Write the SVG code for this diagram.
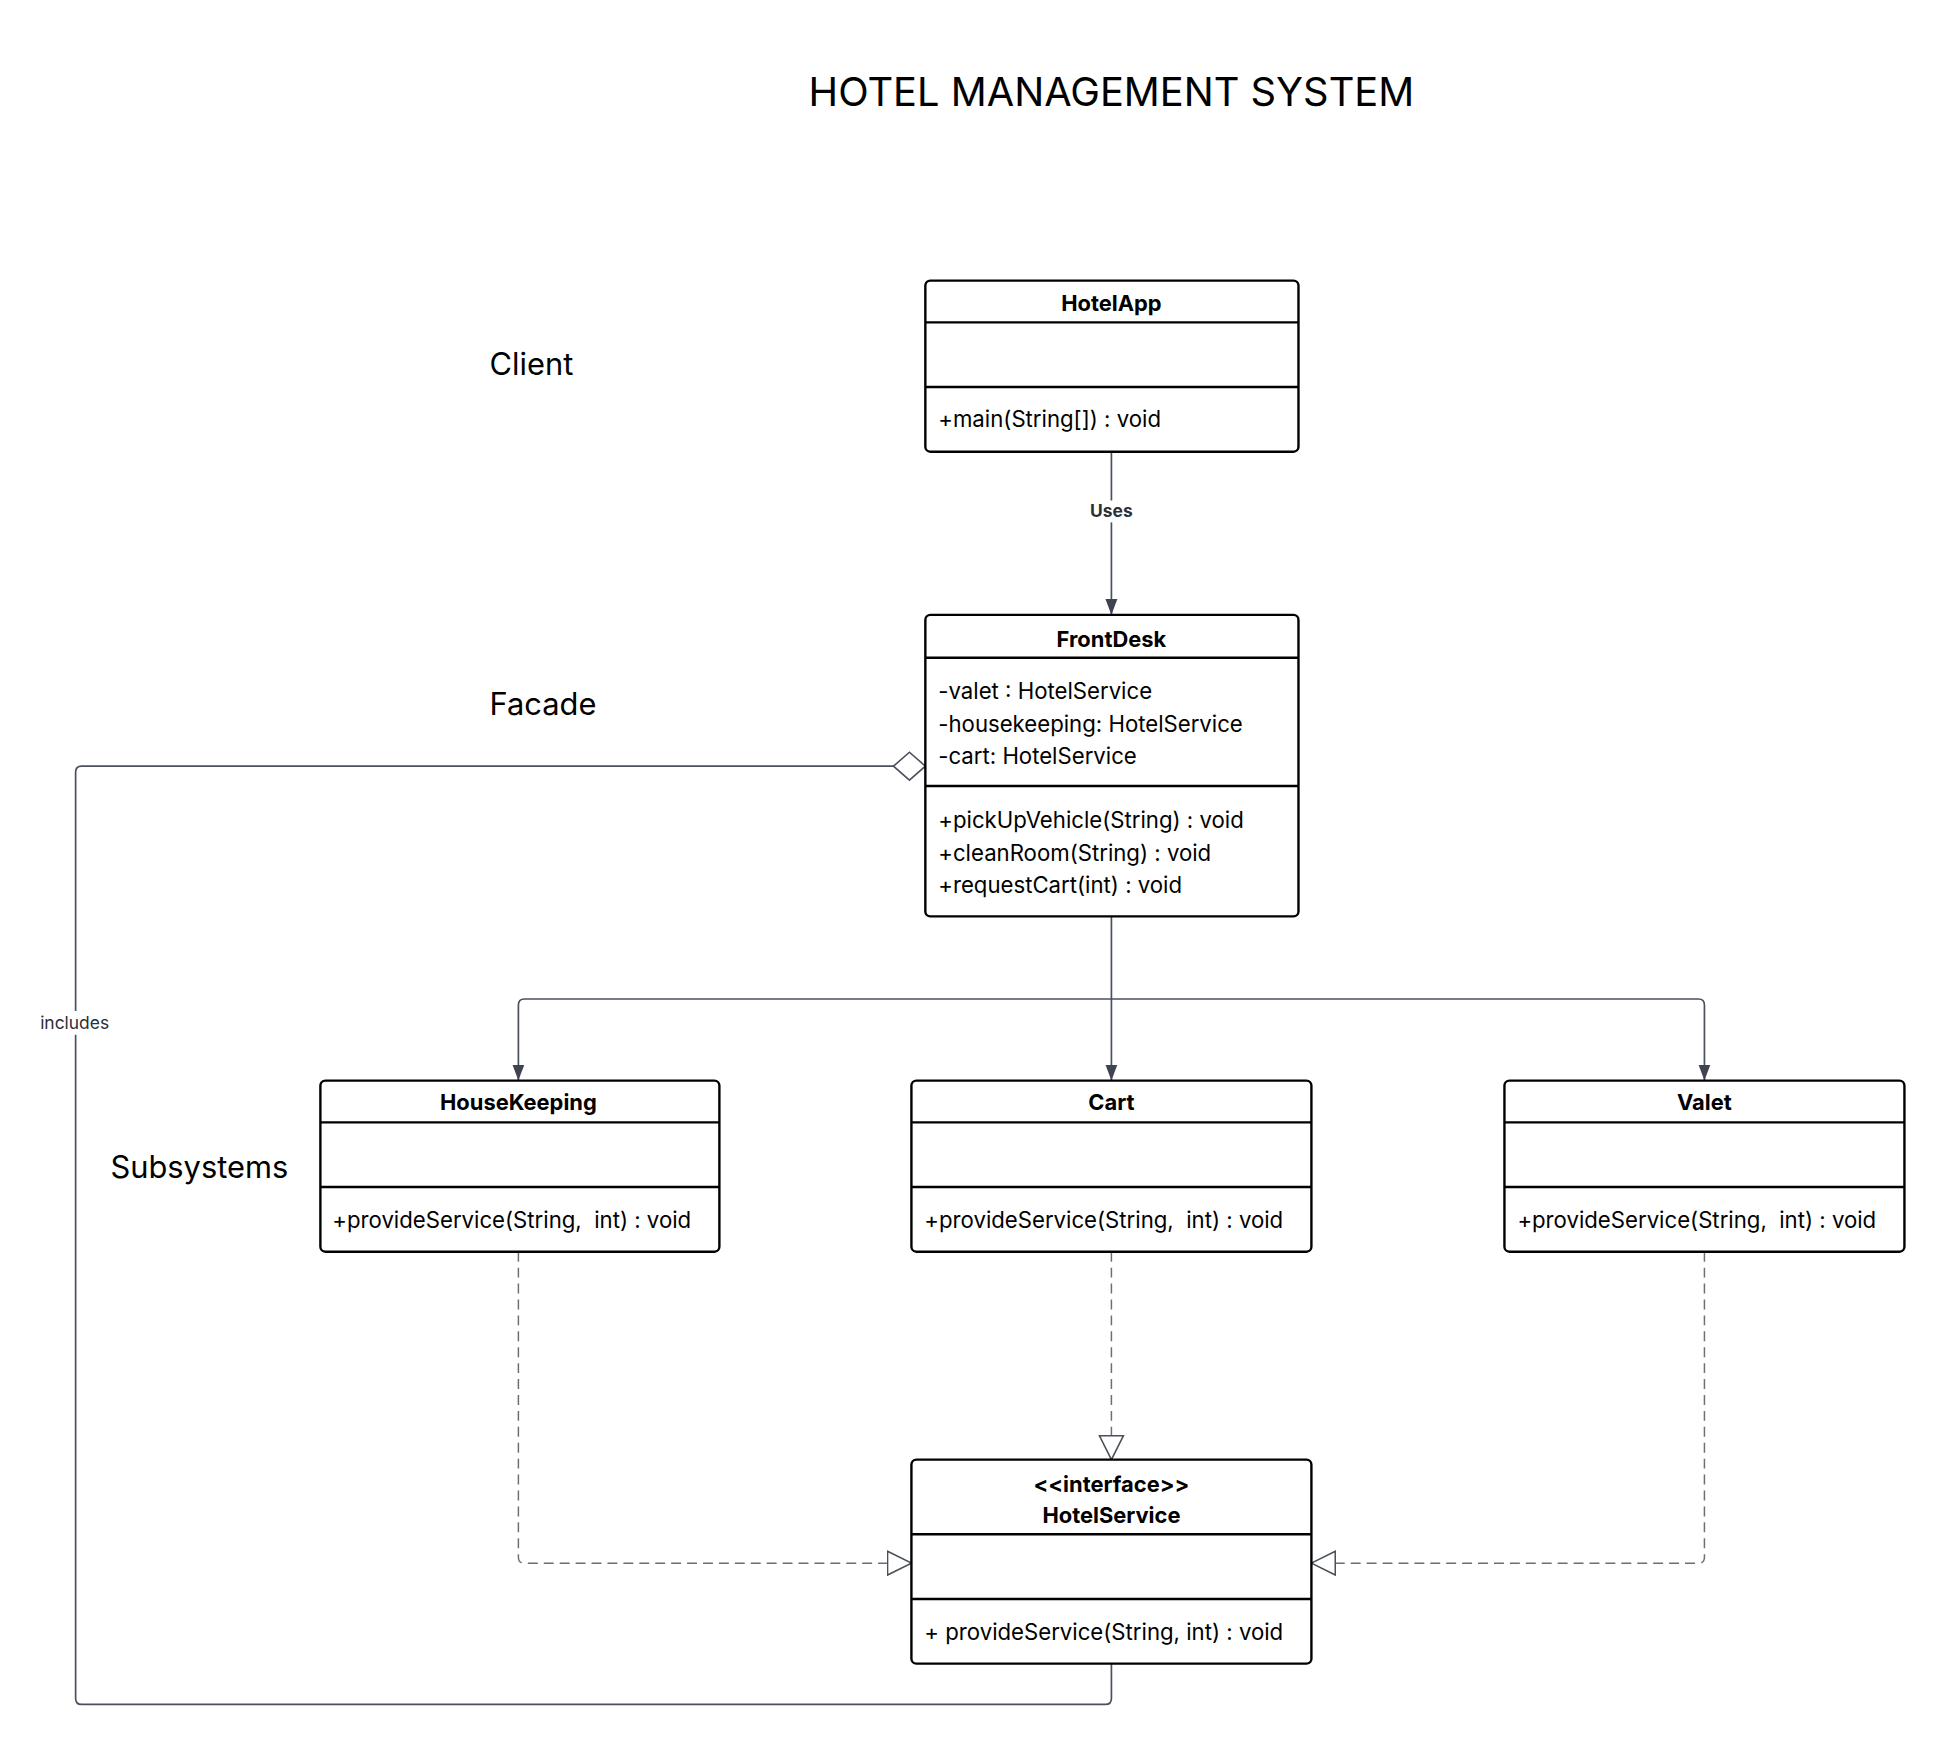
<svg xmlns="http://www.w3.org/2000/svg" width="1945" height="1746" viewBox="0 0 1945 1746">
<style>
text{font-family:Inter,"Liberation Sans",sans-serif;fill:#000}
.title{font-size:40px}
.side{font-size:31px}
.cls{font-size:22px;font-weight:700;text-anchor:middle}
.body{font-size:22.3px}
.box{fill:#fff;stroke:#000;stroke-width:2.4}
.div{stroke:#000;stroke-width:2.4}
.con{fill:none;stroke:#4a505c;stroke-width:1.7}
.dash{fill:none;stroke:#6b6f78;stroke-width:1.5;stroke-dasharray:10 6}
.lbl{font-size:17.5px;fill:#2b2f36;text-anchor:middle}
</style>
<defs>
<marker id="arr" markerUnits="userSpaceOnUse" markerWidth="16" markerHeight="20" viewBox="0 0 16 20" refX="16" refY="8" orient="auto">
<path d="M0,2 L16,8 L0,14 Z" fill="#3f4450"/>
</marker>
<marker id="tri" markerUnits="userSpaceOnUse" markerWidth="26" markerHeight="28" viewBox="0 0 26 28" refX="25" refY="14" orient="auto">
<path d="M1,2 L25,14 L1,26 Z" fill="#fff" stroke="#4a505c" stroke-width="1.6"/>
</marker>
<marker id="dia" markerUnits="userSpaceOnUse" markerWidth="36" markerHeight="32" viewBox="0 0 36 32" refX="34" refY="16" orient="auto">
<path d="M2,16 L18,2 L34,16 L18,30 Z" fill="#fff" stroke="#4a505c" stroke-width="1.6"/>
</marker>
</defs>
<rect width="1945" height="1746" fill="#fff"/>
<g transform="scale(0.995)">
<text class="title" x="1117" y="107" text-anchor="middle">HOTEL MANAGEMENT SYSTEM</text>
<text class="side" x="492" y="377">Client</text>
<text class="side" x="492" y="719">Facade</text>
<text class="side" x="111" y="1184">Subsystems</text>

<g id="connectors">
<path class="con" d="M1117,454 V618" marker-end="url(#arr)"/>
<rect x="1088" y="503" width="58" height="22" fill="#fff"/>
<text class="lbl" x="1117" y="520" font-weight="700">Uses</text>

<path class="con" d="M1117,1672 V1707 Q1117,1713 1111,1713 H82 Q76,1713 76,1707 V776 Q76,770 82,770 H930" marker-end="url(#dia)"/>
<rect x="36" y="1016" width="80" height="24" fill="#fff"/>
<text class="lbl" x="75" y="1034" font-weight="400">includes</text>

<path class="con" d="M1117,921 V1004"/>
<path class="con" d="M1117,1004 H527 Q521,1004 521,1010 V1086" marker-end="url(#arr)"/>
<path class="con" d="M1117,1004 V1086" marker-end="url(#arr)"/>
<path class="con" d="M1117,1004 H1707 Q1713,1004 1713,1010 V1086" marker-end="url(#arr)"/>

<path class="dash" d="M521,1258 V1565 Q521,1571 527,1571 H916" marker-end="url(#tri)"/>
<path class="dash" d="M1117,1258 V1467" marker-end="url(#tri)"/>
<path class="dash" d="M1713,1258 V1565 Q1713,1571 1707,1571 H1318" marker-end="url(#tri)"/>
</g>

<g id="HotelApp">
<rect class="box" x="930" y="282" width="375" height="172" rx="5"/>
<line class="div" x1="930" y1="324" x2="1305" y2="324"/>
<line class="div" x1="930" y1="389" x2="1305" y2="389"/>
<text class="cls" x="1117" y="313">HotelApp</text>
<text class="body" x="943" y="429">+main(String[]) : void</text>
</g>

<g id="FrontDesk">
<rect class="box" x="930" y="618" width="375" height="303" rx="5"/>
<line class="div" x1="930" y1="661" x2="1305" y2="661"/>
<line class="div" x1="930" y1="790" x2="1305" y2="790"/>
<text class="cls" x="1117" y="650">FrontDesk</text>
<text class="body" x="943" y="703">-valet : HotelService</text>
<text class="body" x="943" y="736">-housekeeping: HotelService</text>
<text class="body" x="943" y="768">-cart: HotelService</text>
<text class="body" x="943" y="832">+pickUpVehicle(String) : void</text>
<text class="body" x="943" y="865">+cleanRoom(String) : void</text>
<text class="body" x="943" y="897">+requestCart(int) : void</text>
</g>

<g id="HouseKeeping">
<rect class="box" x="322" y="1086" width="401" height="172" rx="5"/>
<line class="div" x1="322" y1="1128" x2="723" y2="1128"/>
<line class="div" x1="322" y1="1193" x2="723" y2="1193"/>
<text class="cls" x="521" y="1116">HouseKeeping</text>
<text class="body" x="334" y="1234" xml:space="preserve">+provideService(String,  int) : void</text>
</g>

<g id="Cart">
<rect class="box" x="916" y="1086" width="402" height="172" rx="5"/>
<line class="div" x1="916" y1="1128" x2="1318" y2="1128"/>
<line class="div" x1="916" y1="1193" x2="1318" y2="1193"/>
<text class="cls" x="1117" y="1116">Cart</text>
<text class="body" x="929" y="1234" xml:space="preserve">+provideService(String,  int) : void</text>
</g>

<g id="Valet">
<rect class="box" x="1512" y="1086" width="402" height="172" rx="5"/>
<line class="div" x1="1512" y1="1128" x2="1914" y2="1128"/>
<line class="div" x1="1512" y1="1193" x2="1914" y2="1193"/>
<text class="cls" x="1713" y="1116">Valet</text>
<text class="body" x="1525" y="1234" xml:space="preserve">+provideService(String,  int) : void</text>
</g>

<g id="HotelService">
<rect class="box" x="916" y="1467" width="402" height="205" rx="5"/>
<line class="div" x1="916" y1="1542" x2="1318" y2="1542"/>
<line class="div" x1="916" y1="1607" x2="1318" y2="1607"/>
<text class="cls" x="1117" y="1499">&lt;&lt;interface&gt;&gt;</text>
<text class="cls" x="1117" y="1531">HotelService</text>
<text class="body" x="929" y="1648">+ provideService(String, int) : void</text>
</g>
</g>
</svg>
